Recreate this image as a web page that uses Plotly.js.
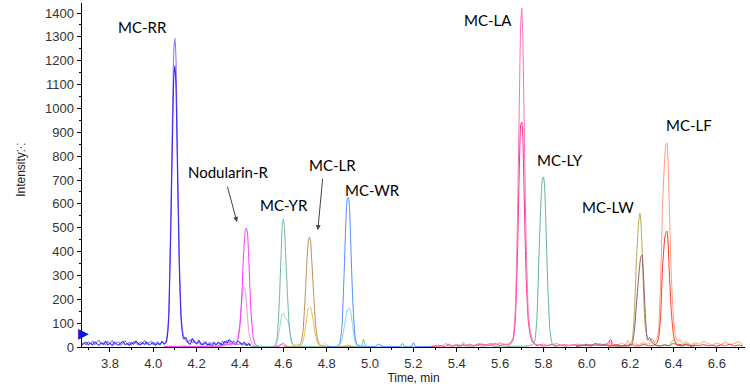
<!DOCTYPE html>
<html>
<head>
<meta charset="utf-8">
<script src="https://cdn.plot.ly/plotly-3.0.1.min.js"></script>
<style>html,body{margin:0;padding:0;background:#fff;}#chart{width:750px;height:391px;}</style>
</head>
<body>
<div id="chart"></div>
<script>
// ---- Data ----
const t_rr = [3.67,3.68,3.69,3.70,3.71,3.72,3.73,3.74,3.75,3.76,3.77,3.78,3.79,3.80,3.81,3.82,3.83,3.84,3.85,3.86,3.87,3.88,3.89,3.90,3.91,3.92,3.93,3.94,3.95,3.96,3.97,3.98,3.99,4.00,4.01,4.02,4.03,4.04,4.05,4.06,4.07,4.08,4.09,4.095,4.10,4.105,4.11,4.12,4.13,4.14,4.15,4.16,4.17,4.18,4.19,4.20,4.21,4.22,4.23,4.24,4.25,4.26,4.27,4.28,4.29,4.30,4.31,4.32,4.33,4.34,4.35,4.36,4.37,4.38,4.39,4.40,4.41,4.42,4.43,4.44,4.45];
const rr1 = [12,18,8,22,14,25,10,20,28,12,18,9,24,15,27,11,19,22,8,16,26,13,20,10,23,17,9,21,14,28,12,18,24,10,16,22,11,20,14,30,120,520,1050,1250,1295,1200,900,380,110,45,28,22,30,18,26,12,20,9,16,24,11,19,14,22,10,18,8,25,15,28,20,12,26,18,10,14,8,12,6,10,5];
const rr2 = [8,14,20,10,16,9,22,13,7,18,11,24,9,15,6,20,12,8,17,23,10,14,7,19,12,25,15,9,18,11,21,8,13,19,7,15,10,24,12,20,100,460,950,1140,1180,1080,820,330,95,35,40,18,12,35,20,15,28,14,10,18,8,12,6,15,9,20,14,10,24,16,30,22,15,10,25,18,12,20,8,14,6];

const t_nod = [4.05,4.08,4.11,4.14,4.17,4.20,4.23,4.26,4.29,4.32,4.34,4.36,4.37,4.38,4.39,4.40,4.41,4.415,4.42,4.425,4.43,4.435,4.44,4.45,4.46,4.47,4.48,4.49,4.50,4.52,4.54,4.56,4.58,4.59,4.60,4.61,4.62];
const nod1 = [2,3,1,4,2,3,2,5,3,6,12,8,15,10,30,90,250,360,440,490,499,470,380,160,45,12,5,3,2,1,2,1,3,10,16,8,2];
const nod2 = [1,2,3,2,1,2,4,2,3,4,8,20,12,18,35,110,210,245,251,230,180,120,70,25,8,4,2,1,2,1,1,2,6,12,6,2,1];

const t_yr = [4.45,4.48,4.51,4.54,4.56,4.57,4.58,4.59,4.595,4.60,4.605,4.61,4.62,4.63,4.64,4.65,4.66,4.68,4.70,4.73,4.76,4.79,4.82,4.85,4.88,4.91,4.94,4.96,4.97,4.98,5.0];
const yr1 = [1,2,1,2,5,30,160,400,510,536,500,400,200,60,15,5,3,2,1,2,1,2,1,2,1,2,1,2,32,3,1];
const yr2 = [2,1,2,1,3,15,60,120,138,142,130,118,112,70,20,6,12,4,2,1,2,1,2,1,1,2,1,2,3,1,1];

const t_lr = [4.60,4.63,4.65,4.67,4.68,4.69,4.70,4.71,4.715,4.72,4.725,4.73,4.74,4.75,4.76,4.77,4.78,4.79,4.80,4.82,4.85,4.88,4.90,4.92];
const lr1 = [1,2,1,3,15,60,200,380,440,461,450,380,220,80,25,8,3,5,2,1,2,1,3,1];
const lr2 = [2,1,3,2,6,20,70,130,160,165,168,150,100,40,12,4,6,16,8,2,1,4,8,2];

const t_wr = [4.80,4.83,4.85,4.86,4.87,4.88,4.89,4.895,4.90,4.905,4.91,4.92,4.93,4.94,4.96,4.99,5.02,5.04,5.06,5.09,5.12,5.14,5.15,5.16,5.19,5.20,5.21,5.24,5.27,5.30];
const wr1 = [1,2,3,15,80,300,560,620,628,590,460,200,50,10,3,2,1,12,2,1,2,3,15,2,1,18,2,1,2,1];
const wr2 = [2,1,2,8,30,80,130,155,160,163,150,90,25,6,2,1,2,1,3,1,2,1,2,1,3,1,2,1,1,2];

const t_la = [5.28,5.30,5.32,5.34,5.35,5.36,5.38,5.40,5.42,5.43,5.44,5.46,5.48,5.50,5.52,5.54,5.56,5.58,5.60,5.62,5.64,5.65,5.66,5.67,5.68,5.69,5.695,5.70,5.705,5.71,5.72,5.73,5.74,5.75,5.76,5.77,5.78,5.80,5.82,5.84,5.86,5.88,5.90,5.92,5.94,5.96,5.98,6.00,6.02,6.04,6.06,6.08,6.10,6.11,6.12];
const la1 = [3,5,2,8,16,4,6,10,7,20,8,12,6,14,9,11,15,8,18,10,14,20,40,150,520,1100,1350,1420,1300,1000,450,150,60,30,15,10,8,12,6,10,14,8,11,6,9,12,7,10,8,13,9,12,10,20,8];
const la2 = [2,3,6,2,4,12,3,8,5,10,6,9,4,10,12,7,9,14,6,12,8,15,30,110,380,800,930,943,880,680,300,110,45,20,10,6,9,4,7,10,5,8,4,7,9,5,8,6,10,7,9,7,18,32,5];

const t_ly = [5.40,5.43,5.46,5.49,5.52,5.55,5.58,5.61,5.64,5.67,5.70,5.73,5.75,5.76,5.77,5.78,5.79,5.795,5.80,5.805,5.81,5.82,5.83,5.84,5.85,5.86];
const ly1 = [2,6,3,8,4,7,3,5,2,4,3,5,10,25,120,400,640,705,713,680,560,260,70,15,4,2];

const t_lw = [5.95,5.98,6.00,6.02,6.04,6.06,6.08,6.10,6.12,6.14,6.16,6.18,6.20,6.21,6.22,6.23,6.24,6.245,6.25,6.255,6.26,6.27,6.28,6.29,6.30,6.32,6.34,6.36,6.38,6.40,6.42,6.44,6.46,6.48,6.50];
const lw1 = [4,8,12,5,9,14,6,8,5,7,4,6,10,30,150,380,530,561,520,420,280,80,40,25,35,8,5,10,6,30,12,8,15,6,9];
const lw2 = [3,6,9,4,15,6,10,4,6,3,5,4,6,15,70,190,300,350,380,386,330,140,30,40,20,6,4,8,5,15,7,5,10,4,6];

const t_lf = [6.10,6.12,6.14,6.16,6.18,6.19,6.20,6.22,6.24,6.26,6.28,6.30,6.32,6.33,6.34,6.35,6.36,6.365,6.37,6.375,6.38,6.39,6.40,6.41,6.42,6.43,6.44,6.46,6.48,6.50,6.52,6.54,6.56,6.58,6.60,6.62,6.64,6.66,6.68,6.70,6.72];
const lf1 = [5,12,8,15,10,28,6,14,9,18,12,20,25,60,250,600,800,850,855,780,620,300,120,40,25,30,15,22,10,18,12,24,14,9,16,11,20,10,15,22,8];
const lf2 = [3,6,10,4,8,5,12,6,4,10,7,5,12,30,120,340,460,480,486,440,330,150,50,15,8,12,6,10,4,8,6,10,5,7,4,9,6,12,5,8,4];

const labels = ["MC-RR","Nodularin-R","MC-YR","MC-LR","MC-WR","MC-LA","MC-LY","MC-LW","MC-LF"];
const labelX = [3.948,4.344,4.603,4.829,5.013,5.544,5.876,6.097,6.471];
const labelY = [1341,733,595,763,658,1370,784,587,930];

const yTicks = [0,100,200,300,400,500,600,700,800,900,1000,1100,1200,1300,1400];
const xTicks = [3.8,4.0,4.2,4.4,4.6,4.8,5.0,5.2,5.4,5.6,5.8,6.0,6.2,6.4,6.6];

// ---- Traces ----
function tr(x, y, color, w) {
  return {x: x, y: y, type: 'scatter', mode: 'lines',
          line: {color: color, width: w || 1, shape: 'spline', smoothing: 0.5},
          hoverinfo: 'skip', showlegend: false};
}
const data = [
  tr(t_rr, rr1, '#8f80ff', 1.1),
  tr(t_rr, rr2, '#3b2cf2', 1.1),
  tr(t_nod, nod2, '#ee8cee'),
  tr(t_nod, nod1, '#ff33ff'),
  tr(t_yr, yr2, '#a3d4c6'),
  tr(t_yr, yr1, '#6fb5a5'),
  tr(t_lr, lr2, '#f6b640'),
  tr(t_lr, lr1, '#b8905a'),
  tr(t_wr, wr2, '#8dcdfb'),
  tr(t_wr, wr1, '#4d8eff'),
  tr(t_la, la2, '#ff2a8e'),
  tr(t_la, la1, '#ff6fb4'),
  tr(t_ly, ly1, '#62b293'),
  tr(t_lw, lw1, '#b5a84a'),
  tr(t_lw, lw2, '#8c5c70'),
  tr(t_lf, lf1, '#ff9c80'),
  tr(t_lf, lf2, '#ff3a22')
];

const annotations = labels.map((s, i) => ({
  x: labelX[i], y: labelY[i], xref: 'x', yref: 'y', text: s, showarrow: false,
  font: {family: 'Lato, "Open Sans", sans-serif', size: 15, color: '#000'}
}));
// arrows for Nodularin-R and MC-LR
annotations.push({x: 4.386, y: 524, xref: 'x', yref: 'y', text: '', showarrow: true,
  ax: -10, ay: -37, arrowhead: 2, arrowsize: 1, arrowwidth: 1, arrowcolor: '#444'});
annotations.push({x: 4.759, y: 490, xref: 'x', yref: 'y', text: '', showarrow: true,
  ax: 5, ay: -53, arrowhead: 2, arrowsize: 1, arrowwidth: 1, arrowcolor: '#444'});
// y title
annotations.push({xref: 'paper', yref: 'paper', x: 0, y: 0.515, xshift: -70,
  text: 'Intensity<span style="font-size:11px">⁙</span>', textangle: -90, showarrow: false,
  font: {family: 'Liberation Sans, Arial, sans-serif', size: 12, color: '#222'}});
// blue threshold marker
annotations.push({xref: 'paper', yref: 'y', x: 0, y: 58, xshift: -6, text: '▶',
  showarrow: false, font: {family: 'DejaVu Sans', size: 14, color: '#1414d8'}});

const layout = {
  width: 750, height: 391,
  margin: {l: 82, r: 5, t: 3, b: 44},
  paper_bgcolor: '#fff', plot_bgcolor: '#fff',
  showlegend: false,
  font: {family: 'Liberation Sans, Arial, sans-serif', size: 12, color: '#333'},
  xaxis: {
    range: [3.671, 6.73], tickvals: xTicks, ticktext: xTicks.map(v => v.toFixed(1)),
    showline: true, linecolor: '#000', linewidth: 1, ticks: 'outside', ticklen: 4,
    tickcolor: '#000', showgrid: false, zeroline: false,
    minor: {dtick: 0.1, tick0: 0, ticks: 'outside', ticklen: 2, tickcolor: '#000', showgrid: false},
    tickfont: {size: 13, color: '#333'},
    title: {text: 'Time, min', font: {size: 12, color: '#222'}, standoff: 4}
  },
  yaxis: {
    range: [0, 1442], tickvals: yTicks,
    showline: true, linecolor: '#000', linewidth: 1.5, ticks: 'outside', ticklen: 4,
    tickcolor: '#000', showgrid: false, zeroline: false,
    minor: {dtick: 50, tick0: 0, ticks: 'outside', ticklen: 2, tickcolor: '#000', showgrid: false},
    tickfont: {size: 13, color: '#333'}
  },
  annotations: annotations
};

Plotly.newPlot('chart', data, layout, {staticPlot: true, displayModeBar: false});
</script>
</body>
</html>
